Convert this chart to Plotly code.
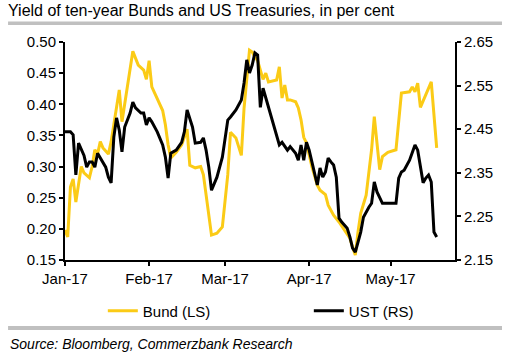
import plotly.graph_objects as go

bund_dates = ["2017-01-01","2017-01-02","2017-01-03","2017-01-04","2017-01-05","2017-01-07","2017-01-08",
"2017-01-10","2017-01-11","2017-01-12","2017-01-13","2017-01-14","2017-01-15","2017-01-17","2017-01-18",
"2017-01-21","2017-01-22","2017-01-26","2017-01-28","2017-01-30","2017-01-31","2017-02-01","2017-02-02",
"2017-02-04","2017-02-06","2017-02-07","2017-02-08","2017-02-09","2017-02-11","2017-02-13","2017-02-15",
"2017-02-16","2017-02-18","2017-02-20","2017-02-21","2017-02-24","2017-02-26","2017-02-28","2017-03-02",
"2017-03-03","2017-03-05","2017-03-07","2017-03-08","2017-03-10","2017-03-11","2017-03-12","2017-03-13",
"2017-03-15","2017-03-16","2017-03-17","2017-03-20","2017-03-21","2017-03-22","2017-03-23","2017-03-24",
"2017-03-25","2017-03-27","2017-03-28","2017-03-29","2017-03-30","2017-03-31","2017-04-02","2017-04-04",
"2017-04-05","2017-04-06","2017-04-07","2017-04-08","2017-04-10","2017-04-12","2017-04-14","2017-04-16",
"2017-04-17","2017-04-18","2017-04-19","2017-04-20","2017-04-22","2017-04-23","2017-04-24","2017-04-25",
"2017-04-27","2017-04-28","2017-04-30","2017-05-03","2017-05-05","2017-05-08","2017-05-09","2017-05-10",
"2017-05-11","2017-05-12","2017-05-16","2017-05-18"]
bund_values = [0.198,0.187,0.267,0.280,0.243,0.300,0.290,
0.282,0.300,0.327,0.320,0.340,0.330,0.320,0.340,
0.423,0.372,0.485,0.463,0.455,0.440,0.470,0.428,
0.410,0.390,0.367,0.335,0.314,0.323,0.335,0.360,
0.302,0.298,0.300,0.287,0.190,0.193,0.203,0.287,
0.355,0.346,0.318,0.394,0.487,0.484,0.476,0.470,
0.440,0.450,0.436,0.439,0.460,0.410,0.431,0.407,
0.407,0.404,0.394,0.375,0.347,0.338,0.300,0.270,
0.262,0.258,0.255,0.238,0.222,0.211,0.198,0.185,
0.171,0.158,0.195,0.225,0.254,0.290,0.327,0.380,
0.295,0.316,0.323,0.327,0.418,0.420,0.428,0.420,
0.434,0.395,0.436,0.330]

ust_dates = ["2017-01-01","2017-01-03","2017-01-04","2017-01-05","2017-01-06","2017-01-08","2017-01-09",
"2017-01-10","2017-01-11","2017-01-12","2017-01-13","2017-01-14","2017-01-16","2017-01-17","2017-01-18",
"2017-01-19","2017-01-20","2017-01-21","2017-01-22","2017-01-23","2017-01-25","2017-01-26","2017-01-27",
"2017-01-29","2017-01-30","2017-01-31","2017-02-01","2017-02-02","2017-02-04","2017-02-06","2017-02-07",
"2017-02-08","2017-02-09","2017-02-11","2017-02-13","2017-02-14","2017-02-15","2017-02-17","2017-02-18",
"2017-02-20","2017-02-21","2017-02-22","2017-02-23","2017-02-24","2017-02-26","2017-02-28","2017-03-01",
"2017-03-02","2017-03-03","2017-03-05","2017-03-07","2017-03-08","2017-03-09","2017-03-10","2017-03-11",
"2017-03-12","2017-03-13","2017-03-14","2017-03-15","2017-03-17","2017-03-19","2017-03-21","2017-03-22",
"2017-03-24","2017-03-25","2017-03-27","2017-03-28","2017-03-29","2017-03-30","2017-03-31","2017-04-01",
"2017-04-02","2017-04-03","2017-04-04","2017-04-05","2017-04-06","2017-04-07","2017-04-08","2017-04-09",
"2017-04-10","2017-04-11","2017-04-12","2017-04-13","2017-04-15","2017-04-16","2017-04-17","2017-04-18",
"2017-04-19","2017-04-20","2017-04-21","2017-04-22","2017-04-23","2017-04-24","2017-04-25","2017-04-26",
"2017-04-28","2017-05-03","2017-05-04","2017-05-05","2017-05-06","2017-05-08","2017-05-10","2017-05-11",
"2017-05-12","2017-05-13","2017-05-14","2017-05-15","2017-05-16","2017-05-17","2017-05-18"]
ust_values = [2.444,2.444,2.437,2.345,2.418,2.390,2.363,
2.375,2.375,2.363,2.395,2.384,2.363,2.340,2.327,
2.432,2.476,2.448,2.398,2.455,2.487,2.512,2.499,
2.487,2.487,2.460,2.476,2.467,2.444,2.414,2.386,
2.338,2.395,2.402,2.420,2.444,2.494,2.455,2.418,
2.420,2.430,2.402,2.363,2.310,2.340,2.386,2.425,
2.471,2.478,2.494,2.517,2.556,2.609,2.579,2.597,
2.625,2.620,2.500,2.544,2.500,2.460,2.414,2.420,
2.402,2.410,2.395,2.379,2.414,2.379,2.420,2.402,
2.375,2.345,2.322,2.361,2.340,2.352,2.384,2.375,
2.368,2.340,2.246,2.237,2.223,2.203,2.177,2.168,
2.189,2.214,2.248,2.260,2.271,2.280,2.329,2.306,
2.280,2.280,2.338,2.352,2.356,2.379,2.414,2.402,
2.368,2.327,2.338,2.345,2.329,2.214,2.203]

month_ticks = ["2017-01-01","2017-02-01","2017-03-01","2017-04-01","2017-05-01"]
month_labels = ["Jan-17","Feb-17","Mar-17","Apr-17","May-17"]

FONT = "Arial, Liberation Sans, sans-serif"
YELLOW = "#FBCB16"

fig = go.Figure()
fig.add_trace(go.Scatter(x=bund_dates, y=bund_values, mode="lines", name="Bund (LS)",
                         line=dict(color=YELLOW, width=3), yaxis="y", legendwidth=161))
fig.add_trace(go.Scatter(x=ust_dates, y=ust_values, mode="lines", name="UST (RS)",
                         line=dict(color="#000000", width=3), yaxis="y2", legendwidth=75))

axis_common = dict(showgrid=False, zeroline=False, showline=True, linecolor="#000000", linewidth=2,
                   ticks="outside", ticklen=4, tickwidth=1.5, tickcolor="#000000",
                   tickfont=dict(family=FONT, size=15, color="#000000"))

fig.update_layout(
    width=512, height=360,
    margin=dict(l=65, r=57, t=42, b=100, autoexpand=False),
    paper_bgcolor="white", plot_bgcolor="white",
    font=dict(family=FONT, color="#000000"),
    title=dict(text="Yield of ten-year Bunds and US Treasuries, in per cent",
               x=8/512, xanchor="left", y=1-10/360, yanchor="middle",
               font=dict(family=FONT, size=16, color="#000000")),
    xaxis=dict(range=["2017-01-01", "2017-05-24 18:00"], tickvals=month_ticks, ticktext=month_labels,
               **axis_common),
    yaxis=dict(range=[0.15, 0.50], tick0=0.15, dtick=0.05, tickformat=".2f", **axis_common),
    yaxis2=dict(range=[2.15, 2.65], tick0=2.15, dtick=0.1, tickformat=".2f", overlaying="y", side="right",
                **axis_common),
    showlegend=True,
    legend=dict(orientation="h", x=0.097, xanchor="left", y=-0.234, yanchor="middle",
                font=dict(family=FONT, size=15, color="#000000"), bgcolor="rgba(0,0,0,0)"),
    shapes=[
        dict(type="rect", xref="paper", yref="paper", x0=-0.146, x1=1.1205, y0=1.078, y1=1.094,
             fillcolor="#C0C0C0", line=dict(width=0), layer="above"),
        dict(type="rect", xref="paper", yref="paper", x0=-0.146, x1=1.1205, y0=-0.321, y1=-0.303,
             fillcolor="#C0C0C0", line=dict(width=0), layer="above"),
    ],
    annotations=[
        dict(text="<i>Source: Bloomberg, Commerzbank Research</i>", xref="paper", yref="paper",
             x=-0.146, y=-0.385, xanchor="left", yanchor="middle", showarrow=False,
             font=dict(family=FONT, size=14, color="#000000")),
    ],
)

fig.write_html("out.html", config={"displayModeBar": False},
               post_script="document.body.style.margin='0';")
